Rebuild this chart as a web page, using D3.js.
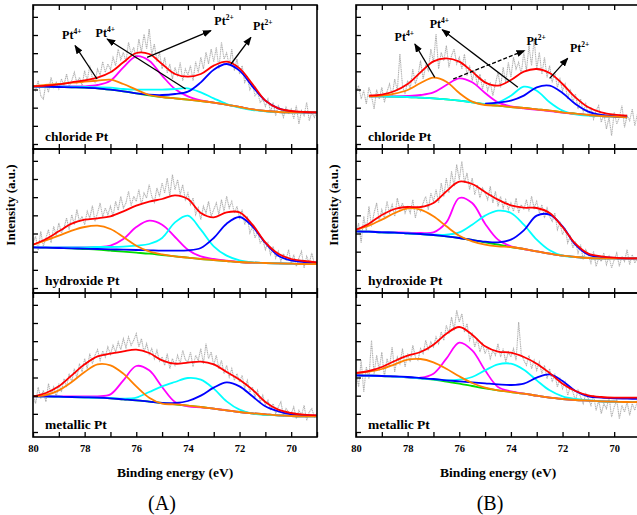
<!DOCTYPE html>
<html>
<head>
<meta charset="utf-8">
<script src="https://cdn.jsdelivr.net/npm/d3@7/dist/d3.min.js"></script>
<style>
body { margin: 0; background: #fff; }
svg text { font-family: "Liberation Serif", "Times New Roman", "DejaVu Serif", serif !important; }
</style>
</head>
<body>
<div id="chart"></div>
<script>
// Energy grids (eV)
const fit_energy = [80, 79.5, 79, 78.5, 78, 77.5, 77, 76.5, 76, 75.5, 75, 74.5, 74,
    73.5, 73, 72.5, 72, 71.5, 71, 70.5, 70, 69.5, 69];
const scan_energy = [
    80, 79.9, 79.8, 79.7, 79.6, 79.5, 79.4, 79.3, 79.2, 79.1,
    79, 78.9, 78.8, 78.7, 78.6, 78.5, 78.4, 78.3, 78.2, 78.1,
    78, 77.9, 77.8, 77.7, 77.6, 77.5, 77.4, 77.3, 77.2, 77.1,
    77, 76.9, 76.8, 76.7, 76.6, 76.5, 76.4, 76.3, 76.2, 76.1,
    76, 75.9, 75.8, 75.7, 75.6, 75.5, 75.4, 75.3, 75.2, 75.1,
    75, 74.9, 74.8, 74.7, 74.6, 74.5, 74.4, 74.3, 74.2, 74.1,
    74, 73.9, 73.8, 73.7, 73.6, 73.5, 73.4, 73.3, 73.2, 73.1,
    73, 72.9, 72.8, 72.7, 72.6, 72.5, 72.4, 72.3, 72.2, 72.1,
    72, 71.9, 71.8, 71.7, 71.6, 71.5, 71.4, 71.3, 71.2, 71.1,
    71, 70.9, 70.8, 70.7, 70.6, 70.5, 70.4, 70.3, 70.2, 70.1,
    70, 69.9, 69.8, 69.7, 69.6, 69.5, 69.4, 69.3, 69.2, 69.1,
    69];
const x_ticks = [80, 79, 78, 77, 76, 75, 74, 73, 72, 71, 70, 69];
const x_tick_labels = [80, 78, 76, 74, 72, 70];
const y_ticks = [15, 69.5, 124, 178.5, 233, 287.5, 342, 396.5];

const panel_labels = ['chloride Pt', 'hydroxide Pt', 'metallic Pt'];
const column_labels = ['(A)', '(B)'];

// (A) chloride
const chloride_a_raw = [
    190, 175, 205, 160, 150, 195, 170, 215, 185, 200,
    180, 210, 192, 225, 188, 205, 230, 198, 215, 190,
    235, 205, 250, 212, 200, 240, 222, 262, 230, 255,
    238, 275, 250, 300, 268, 290, 262, 320, 285, 305,
    270, 330, 290, 345, 300, 360, 282, 315, 262, 290,
    240, 275, 228, 255, 210, 245, 218, 260, 205, 240,
    222, 250, 205, 262, 230, 275, 240, 290, 255, 300,
    262, 305, 240, 320, 270, 288, 250, 300, 235, 270,
    225, 250, 200, 215, 178, 195, 160, 170, 140, 150,
    128, 150, 110, 140, 100, 130, 118, 95, 125, 105,
    120, 90, 130, 75, 115, 100, 140, 85, 110, 95,
    115];
const chloride_a_base = [188, 187, 186, 185, 184, 182, 178, 173, 167, 161, 156, 152, 148, 144, 139, 133, 126, 119, 114, 111, 110, 110, 110];
const chloride_a_orange = [188, 192, 195, 199, 202, 205, 208, 195, 178, 162, 156, 152, 148, 144, 139, 133, 126, 119, 114, 111, 110, 110, 110];
const chloride_a_magenta = [188, 188, 188, 188, 188, 192, 205, 245, 278, 265, 220, 180, 158, 146, 139, 133, 126, 119, 114, 111, 110, 110, 110];
const chloride_a_cyan = [188, 188, 188, 187, 186, 185, 184, 180, 178, 178, 178, 180, 182, 170, 152, 135, 124, 117, 113, 111, 110, 110, 110];
const chloride_a_blue = [188, 187, 186, 185, 184, 182, 178, 173, 167, 163, 162, 165, 172, 200, 238, 255, 235, 188, 145, 122, 113, 110, 110];
const chloride_a_sum = [188, 190, 194, 200, 206, 214, 230, 260, 288, 285, 255, 225, 217, 225, 250, 262, 242, 195, 145, 122, 114, 111, 110];

// (A) hydroxide
const hydroxide_a_raw = [
    150, 170, 128, 185, 140, 165, 190, 150, 200, 172,
    210, 180, 195, 225, 190, 235, 205, 250, 215, 230,
    205, 245, 225, 262, 215, 240, 270, 228, 255, 235,
    260, 230, 275, 248, 290, 255, 270, 305, 262, 290,
    275, 310, 265, 300, 285, 325, 290, 272, 315, 290,
    330, 300, 345, 290, 355, 310, 340, 295, 325, 280,
    300, 265, 285, 235, 255, 220, 260, 240, 275, 230,
    250, 270, 235, 280, 245, 290, 255, 275, 240, 260,
    225, 250, 205, 230, 180, 200, 165, 185, 150, 160,
    130, 150, 115, 140, 105, 125, 95, 118, 100, 130,
    88, 115, 80, 105, 125, 75, 110, 90, 120, 85,
    100];
const hydroxide_a_base = [137, 136, 135, 134, 132, 130, 127, 124, 121, 118, 114, 110, 106, 102, 99, 96, 93, 91, 90, 89, 88, 87, 87];
const hydroxide_a_orange = [145, 158, 172, 187, 198, 202, 192, 168, 142, 125, 116, 110, 106, 102, 99, 96, 93, 91, 90, 89, 88, 87, 87];
const hydroxide_a_magenta = [137, 137, 137, 137, 137, 138, 142, 162, 198, 217, 205, 168, 130, 110, 102, 97, 93, 91, 90, 89, 88, 87, 87];
const hydroxide_a_cyan = [137, 137, 137, 137, 137, 138, 138, 139, 142, 147, 165, 212, 232, 190, 140, 112, 98, 92, 90, 89, 88, 87, 87];
const hydroxide_a_blue = [137, 136, 135, 134, 133, 132, 131, 130, 129, 128, 127, 127, 128, 135, 165, 208, 228, 200, 150, 112, 98, 93, 91];
const hydroxide_a_sum = [145, 162, 185, 208, 220, 224, 230, 245, 262, 274, 282, 293, 282, 240, 227, 242, 242, 205, 152, 118, 102, 96, 92];

// (A) metallic
const metallic_a_raw = [
    125, 100, 150, 115, 140, 105, 160, 128, 150, 120,
    160, 135, 175, 150, 190, 165, 205, 178, 220, 195,
    235, 205, 250, 220, 245, 262, 230, 258, 240, 270,
    248, 275, 255, 285, 262, 295, 268, 300, 275, 290,
    310, 270, 295, 255, 280, 248, 265, 235, 260, 228,
    240, 215, 250, 205, 235, 215, 245, 220, 260, 232,
    225, 255, 210, 245, 230, 265, 220, 280, 235, 255,
    215, 245, 205, 230, 190, 215, 180, 205, 170, 190,
    165, 185, 145, 170, 135, 150, 120, 140, 105, 125,
    95, 110, 80, 100, 70, 90, 105, 65, 85, 75,
    70, 90, 55, 80, 65, 95, 50, 75, 85, 60,
    72];
const metallic_a_base = [122, 122, 121, 120, 119, 118, 116, 113, 110, 106, 102, 98, 94, 90, 85, 80, 75, 71, 68, 65, 63, 62, 62];
const metallic_a_orange = [122, 126, 140, 165, 195, 218, 215, 190, 152, 118, 100, 98, 94, 90, 85, 80, 75, 71, 68, 65, 63, 62, 62];
const metallic_a_magenta = [122, 122, 122, 122, 122, 122, 128, 170, 213, 200, 150, 105, 92, 89, 85, 80, 75, 71, 68, 65, 63, 62, 62];
const metallic_a_cyan = [122, 122, 121, 120, 119, 118, 117, 115, 118, 135, 152, 165, 177, 172, 145, 107, 82, 70, 66, 65, 63, 62, 62];
const metallic_a_blue = [122, 122, 121, 120, 119, 118, 116, 113, 110, 106, 102, 102, 108, 124, 148, 164, 152, 122, 92, 77, 68, 65, 64];
const metallic_a_sum = [122, 132, 152, 185, 218, 242, 250, 257, 262, 252, 230, 220, 223, 226, 218, 195, 172, 142, 105, 82, 72, 67, 65];

// (B) chloride
const chloride_b_raw = [
    170, 190, 150, 175, 135, 185, 160, 120, 178, 150,
    185, 140, 172, 195, 160, 210, 175, 285, 190, 165,
    205, 180, 240, 195, 220, 265, 210, 250, 235, 300,
    260, 345, 240, 290, 265, 310, 245, 280, 300, 255,
    275, 240, 285, 220, 250, 205, 235, 190, 225, 180,
    210, 175, 200, 160, 195, 230, 185, 245, 200, 260,
    215, 275, 240, 260, 225, 290, 235, 310, 250, 330,
    240, 290, 225, 275, 215, 250, 200, 230, 185, 210,
    175, 195, 150, 180, 140, 165, 120, 150, 110, 135,
    100, 125, 90, 115, 130, 80, 105, 60, 95, 40,
    110, 75, 95, 130, 65, 100, 85, 120, 70, 105,
    90];
const chloride_b_base = [null, 158, 158, 157, 156, 154, 152, 149, 145, 140, 134, 130, 126, 123, 119, 115, 110, 106, 102, 99, 97, 95, null];
const chloride_b_orange = [null, 158, 160, 166, 177, 198, 214, 202, 168, 142, 132, 130, 126, 123, 119, 115, 110, 106, 102, 99, 97, 95, null];
const chloride_b_magenta = [null, 158, 158, 158, 159, 162, 170, 192, 212, 200, 168, 140, 128, 122, 118, 114, 109, 105, 102, 99, 97, 95, null];
const chloride_b_cyan = [null, 158, 158, 157, 156, 154, 152, 149, 145, 140, 135, 140, 160, 187, 175, 140, 115, 104, 100, 99, 97, 95, null];
const chloride_b_blue = [null, null, null, null, null, null, null, null, null, null, 136, 139, 145, 160, 185, 190, 168, 135, 112, 102, 98, 96, null];
const chloride_b_sum = [null, 160, 163, 174, 195, 230, 263, 272, 262, 232, 200, 190, 207, 232, 240, 228, 195, 155, 125, 110, 103, 100, null];

// (B) hydroxide
const hydroxide_b_raw = [
    175, 210, 150, 230, 185, 260, 200, 240, 270, 215,
    250, 225, 275, 240, 265, 230, 285, 250, 270, 240,
    262, 240, 280, 225, 258, 245, 270, 290, 250, 300,
    275, 310, 270, 330, 290, 345, 300, 365, 320, 385,
    340, 395, 330, 360, 310, 345, 295, 325, 285, 315,
    300, 280, 320, 270, 305, 260, 290, 255, 280, 250,
    270, 245, 285, 240, 265, 250, 280, 245, 290, 255,
    275, 240, 265, 225, 255, 230, 215, 240, 190, 210,
    175, 195, 150, 170, 135, 155, 120, 145, 100, 130,
    115, 90, 125, 80, 105, 95, 120, 85, 110, 75,
    100, 120, 80, 110, 95, 130, 85, 115, 90, 105,
    98];
const hydroxide_b_base = [185, 184, 182, 181, 179, 177, 174, 170, 165, 159, 152, 145, 138, 132, 125, 118, 112, 108, 105, 104, 104, 104, 104];
const hydroxide_b_orange = [190, 202, 220, 240, 254, 250, 230, 200, 172, 155, 145, 140, 138, 132, 125, 118, 112, 108, 105, 104, 104, 104, 104];
const hydroxide_b_magenta = [185, 184, 183, 182, 181, 180, 182, 212, 285, 270, 208, 160, 140, 132, 125, 118, 112, 108, 105, 104, 104, 104, 104];
const hydroxide_b_cyan = [185, 184, 182, 181, 179, 177, 175, 175, 182, 205, 232, 247, 240, 205, 160, 128, 112, 108, 105, 104, 104, 104, 104];
const hydroxide_b_blue = [185, 184, 182, 181, 179, 177, 174, 170, 165, 159, 154, 152, 160, 188, 232, 235, 200, 145, 115, 108, 105, 104, 104];
const hydroxide_b_sum = [190, 208, 234, 252, 258, 258, 270, 305, 334, 327, 303, 280, 263, 256, 255, 240, 198, 148, 118, 110, 106, 104, 104];

// (B) metallic
const metallic_b_raw = [
    200, 150, 230, 135, 210, 175, 290, 190, 245, 200,
    255, 180, 235, 210, 270, 195, 240, 220, 265, 210,
    250, 225, 275, 240, 230, 265, 250, 290, 260, 285,
    270, 300, 280, 315, 290, 335, 310, 360, 320, 380,
    345, 370, 315, 340, 290, 310, 270, 295, 255, 280,
    250, 270, 235, 260, 245, 280, 240, 265, 225, 255,
    240, 265, 230, 345, 250, 230, 215, 245, 205, 230,
    200, 225, 190, 215, 175, 205, 165, 190, 150, 175,
    145, 165, 125, 150, 135, 110, 140, 120, 100, 130,
    115, 95, 125, 80, 110, 70, 100, 85, 120, 60,
    90, 110, 55, 95, 75, 105, 65, 100, 80, 110,
    85];
const metallic_b_base = [185, 184, 183, 181, 179, 176, 172, 166, 160, 153, 146, 140, 135, 130, 124, 118, 114, 111, 109, 107, 106, 105, 105];
const metallic_b_orange = [192, 196, 204, 218, 232, 234, 224, 205, 182, 162, 148, 140, 135, 130, 124, 118, 114, 111, 109, 107, 106, 105, 105];
const metallic_b_magenta = [185, 184, 183, 181, 179, 178, 190, 235, 283, 260, 200, 150, 137, 130, 124, 118, 114, 111, 109, 107, 106, 105, 105];
const metallic_b_cyan = [185, 184, 183, 181, 179, 176, 173, 170, 172, 180, 200, 218, 220, 202, 170, 140, 122, 114, 110, 107, 106, 105, 105];
const metallic_b_blue = [185, 184, 183, 182, 180, 177, 174, 170, 167, 164, 161, 158, 156, 160, 178, 188, 168, 138, 122, 118, 116, 115, 114];
const metallic_b_sum = [192, 198, 210, 228, 244, 255, 277, 310, 330, 307, 272, 256, 253, 240, 220, 192, 160, 138, 125, 120, 118, 118, 118];

// Peak annotations (energy, intensity, charge) and arrows (from -> head)
const chloride_a_notes = [[78.5, 330, '4+'], [77.2, 336, '4+'], [72.6, 373, '2+'], [71.1, 356, '2+']];
const chloride_a_arrows = [[77.52, 210, 78.37, 310], [74.09, 180, 77.13, 330], [75.58, 275, 73.11, 355], [72.33, 255, 71.56, 335]];
const chloride_b_notes = [[78.13, 325, '4+'], [76.77, 362, '4+'], [73.02, 312, '2+'], [71.34, 290, '2+']];
const chloride_b_arrows = [[76.95, 215, 77.72, 315], [73.73, 185, 76.66, 358], [76.24, 210, 73.47, 295], [72.5, 212, 71.8, 272]];
const dashed_arrow_b = 2;

const chart_width = 637;
const chart_height = 515;
const col_left = [33, 356];
const plot_width = 284;
const row_top = [5, 149, 293];
const row_height = 144;
const serif = '"Liberation Serif", "Times New Roman", "DejaVu Serif", serif';

const fit_colors = ['#00dd00', '#ff00ff', '#00ffff', '#0000ff', '#ff8000', '#ff0000'];

const panels = [
    [chloride_a_raw, [chloride_a_base, chloride_a_magenta, chloride_a_cyan, chloride_a_blue, chloride_a_orange, chloride_a_sum]],
    [hydroxide_a_raw, [hydroxide_a_base, hydroxide_a_magenta, hydroxide_a_cyan, hydroxide_a_blue, hydroxide_a_orange, hydroxide_a_sum]],
    [metallic_a_raw, [metallic_a_base, metallic_a_magenta, metallic_a_cyan, metallic_a_blue, metallic_a_orange, metallic_a_sum]],
    [chloride_b_raw, [chloride_b_base, chloride_b_magenta, chloride_b_cyan, chloride_b_blue, chloride_b_orange, chloride_b_sum]],
    [hydroxide_b_raw, [hydroxide_b_base, hydroxide_b_magenta, hydroxide_b_cyan, hydroxide_b_blue, hydroxide_b_orange, hydroxide_b_sum]],
    [metallic_b_raw, [metallic_b_base, metallic_b_magenta, metallic_b_cyan, metallic_b_blue, metallic_b_orange, metallic_b_sum]],
];

const svg = d3.select('#chart')
    .append('svg')
    .attr('width', chart_width)
    .attr('height', chart_height)
    .attr('font-family', serif);

const defs = svg.append('defs');
defs.append('marker')
    .attr('id', 'head')
    .attr('markerUnits', 'userSpaceOnUse')
    .attr('markerWidth', 9)
    .attr('markerHeight', 7)
    .attr('refX', 8)
    .attr('refY', 3.5)
    .attr('orient', 'auto')
    .append('path')
    .attr('d', 'M0,0 L9,3.5 L0,7 Z')
    .attr('fill', '#000');

panels.forEach((p, i) => {
    const col = Math.floor(i / 3);
    const row = i % 3;
    const left = col_left[col];
    const top = row_top[row];

    const x_scale = d3.scaleLinear()
        .domain([80, 69])
        .range([left, left + plot_width]);
    const y_scale = d3.scaleLinear()
        .domain([0, 432])
        .range([top + row_height, top]);

    defs.append('clipPath')
        .attr('id', 'clip' + i)
        .append('rect')
        .attr('x', left)
        .attr('y', top)
        .attr('width', plot_width)
        .attr('height', row_height);

    const g = svg.append('g').attr('clip-path', `url(#clip${i})`);

    // raw spectrum
    const raw_line = d3.line()
        .x((d, j) => x_scale(scan_energy[j]))
        .y(d => y_scale(d));
    g.append('path')
        .attr('d', raw_line(p[0]))
        .attr('fill', 'none')
        .attr('stroke', '#b0b0b0')
        .attr('stroke-width', 1.1)
        .attr('stroke-dasharray', '1.2,0.6');

    // fitted components
    const fit_line = d3.line()
        .defined(d => d != null)
        .x((d, j) => x_scale(fit_energy[j]))
        .y(d => y_scale(d))
        .curve(d3.curveCatmullRom.alpha(0.5));
    p[1].forEach((series, k) => {
        g.append('path')
            .attr('d', fit_line(series))
            .attr('fill', 'none')
            .attr('stroke', fit_colors[k])
            .attr('stroke-width', 1.8);
    });

    // axes with inward ticks
    svg.append('g')
        .attr('transform', `translate(0, ${top + row_height})`)
        .call(d3.axisBottom(x_scale).tickValues(x_ticks).tickSizeInner(-5).tickSizeOuter(0).tickFormat(''))
        .call(a => a.select('.domain').remove());
    svg.append('g')
        .attr('transform', `translate(0, ${top})`)
        .call(d3.axisTop(x_scale).tickValues(x_ticks).tickSizeInner(-5).tickSizeOuter(0).tickFormat(''))
        .call(a => a.select('.domain').remove());
    svg.append('g')
        .attr('transform', `translate(${left}, 0)`)
        .call(d3.axisLeft(y_scale).tickValues(y_ticks).tickSizeInner(-5).tickSizeOuter(0).tickFormat(''))
        .call(a => a.select('.domain').remove());

    svg.selectAll('.tick line').attr('stroke-width', 1.3);

    svg.append('rect')
        .attr('x', left)
        .attr('y', top)
        .attr('width', plot_width)
        .attr('height', row_height)
        .attr('fill', 'none')
        .attr('stroke', '#000')
        .attr('stroke-width', 1.6);

    svg.append('text')
        .attr('x', left + 12)
        .attr('y', top + row_height - 8)
        .attr('font-family', serif)
        .attr('font-size', 13.5)
        .attr('font-weight', 'bold')
        .text(panel_labels[row]);

    if (row === 2) {
        const labels = svg.append('g')
            .attr('transform', `translate(0, ${top + row_height})`)
            .call(d3.axisBottom(x_scale).tickValues(x_tick_labels).tickSize(0).tickPadding(8))
            .call(a => a.select('.domain').remove());
        labels.attr('font-family', serif);
        labels.selectAll('text')
            .attr('font-family', serif)
            .attr('font-size', 10.5)
            .attr('font-weight', 'bold')
            .attr('fill', '#000');

        svg.append('text')
            .attr('x', left + plot_width / 2)
            .attr('y', 477)
            .attr('text-anchor', 'middle')
            .attr('font-family', serif)
            .attr('font-size', 13.5)
            .attr('font-weight', 'bold')
            .text('Binding energy (eV)');
    }

    if (row === 0) {
        const notes = col === 0 ? chloride_a_notes : chloride_b_notes;
        const arrows = col === 0 ? chloride_a_arrows : chloride_b_arrows;

        svg.append('g')
            .selectAll('line')
            .data(arrows)
            .enter()
            .append('line')
            .attr('x1', d => x_scale(d[0]))
            .attr('y1', d => y_scale(d[1]))
            .attr('x2', d => x_scale(d[2]))
            .attr('y2', d => y_scale(d[3]))
            .attr('stroke', '#000')
            .attr('stroke-width', 1.3)
            .attr('stroke-dasharray', (d, j) => (col === 1 && j === dashed_arrow_b) ? '4,2' : null)
            .attr('marker-end', 'url(#head)');

        const t = svg.append('g')
            .selectAll('text')
            .data(notes)
            .enter()
            .append('text')
            .attr('x', d => x_scale(d[0]))
            .attr('y', d => y_scale(d[1]))
            .attr('text-anchor', 'middle')
            .attr('font-family', serif)
            .attr('font-size', 12)
            .attr('font-weight', 'bold');
        t.append('tspan').text('Pt');
        t.append('tspan')
            .attr('dy', -5)
            .attr('font-size', 7.5)
            .text(d => d[2]);
    }
});

// y titles
col_left.forEach(left => {
    svg.append('text')
        .attr('transform', `translate(${left - 18}, 205) rotate(-90)`)
        .attr('text-anchor', 'middle')
        .attr('font-family', serif)
        .attr('font-size', 13)
        .attr('font-weight', 'bold')
        .text('Intensity (a.u.)');
});

// column captions
svg.append('text')
    .attr('x', 162)
    .attr('y', 510)
    .attr('text-anchor', 'middle')
    .attr('font-family', serif)
    .attr('font-size', 20)
    .text(column_labels[0]);
svg.append('text')
    .attr('x', 490)
    .attr('y', 510)
    .attr('text-anchor', 'middle')
    .attr('font-family', serif)
    .attr('font-size', 20)
    .text(column_labels[1]);
</script>
</body>
</html>
